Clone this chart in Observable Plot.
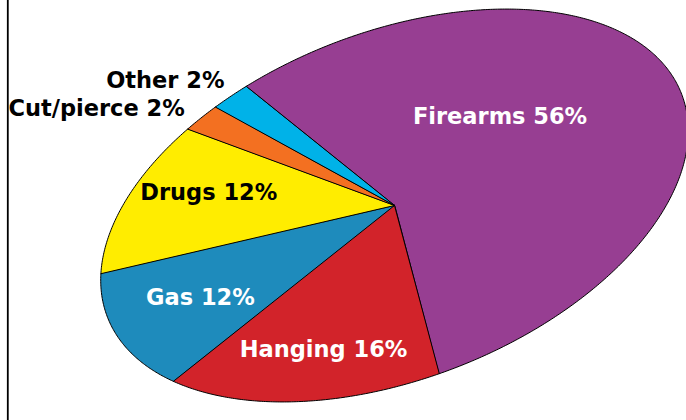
<!DOCTYPE html>
<html>
<head>
<meta charset="utf-8">
<script src="https://cdn.jsdelivr.net/npm/d3@7"></script>
<script src="https://cdn.jsdelivr.net/npm/@observablehq/plot@0.6"></script>
<style>
  body { margin: 0; background: #fff; }
</style>
</head>
<body>
<div id="chart"></div>
<script>
// ---- data ----
const categories = ["Firearms", "Hanging", "Gas", "Drugs", "Cut/pierce", "Other"];
const shares = [56, 16, 12, 12, 2, 2];
const sliceColors = ["#973E92", "#D2232A", "#1E8BBC", "#FFED00", "#F37021", "#00B2E8"];
const labelColors = ["white", "white", "white", "black", "black", "black"];

// ---- layout (ellipse-shaped pie) ----
const startAngle = 252;          // degrees, in the un-stretched circle
const tilt = 21.3;               // major axis tilt (deg, up to the right)
const semiMajor = 308, semiMinor = 173.3;
const labelAngleShift = [-25, 0, 0.5, 4, 0, 1.6];
const labelRadius = [0.49, 0.735, 0.71, 0.725, 1.10, 1.10];
const labelAnchor = ["middle", "middle", "middle", "middle", "end", "end"];

const t = tilt * Math.PI / 180;
const e1 = [Math.cos(t), -Math.sin(t)];
const e2 = [Math.sin(t), Math.cos(t)];
function project(angDeg, r) {
  const a = angDeg * Math.PI / 180;
  const u1 = r * Math.cos(a) * semiMajor;
  const u2 = r * Math.sin(a) * semiMinor;
  return {x: e1[0] * u1 + e2[0] * u2, y: e1[1] * u1 + e2[1] * u2};
}

const total = d3.sum(shares);
let acc = startAngle;
const slices = categories.map((c, i) => {
  const a0 = acc, a1 = acc + shares[i] / total * 360;
  acc = a1;
  const pts = [{x: 0, y: 0}];
  const n = Math.max(4, Math.ceil((a1 - a0) / 0.5));
  for (let k = 0; k <= n; k++) pts.push(project(a0 + (a1 - a0) * k / n, 1));
  const lab = project((a0 + a1) / 2 + labelAngleShift[i], labelRadius[i]);
  return {
    category: c, share: shares[i], color: sliceColors[i], textColor: labelColors[i],
    pts, lx: lab.x, ly: lab.y, anchor: labelAnchor[i], text: `${c} ${shares[i]}%`
  };
});

const xDomain = [-386.7, 292];
const textStyle = {fontSize: 22.5, fontWeight: "bold", fontFamily: "DejaVu Sans", dx: 3};

const chart = Plot.plot({
  width: 686,
  height: 420,
  marginLeft: 7.3,
  marginRight: 0,
  marginTop: 0,
  marginBottom: 0,
  x: {domain: xDomain, axis: null},
  y: {domain: [215, -205], axis: null},
  color: {type: "identity"},
  style: {background: "white"},
  marks: [
    ...slices.map(s => Plot.line(s.pts, {
      x: "x", y: "y", curve: "linear-closed",
      fill: s.color, stroke: "black", strokeWidth: 1, strokeLinejoin: "round"
    })),
    Plot.text(slices.filter(s => s.anchor === "middle"), {
      x: "lx", y: "ly", text: "text", fill: "textColor", textAnchor: "middle", ...textStyle
    }),
    Plot.text(slices.filter(s => s.anchor === "end"), {
      x: "lx", y: "ly", text: "text", fill: "textColor", textAnchor: "end", ...textStyle
    }),
    Plot.ruleX([xDomain[0]], {stroke: "black", strokeWidth: 1.8})
  ]
});
document.getElementById("chart").appendChild(chart);
</script>
</body>
</html>
